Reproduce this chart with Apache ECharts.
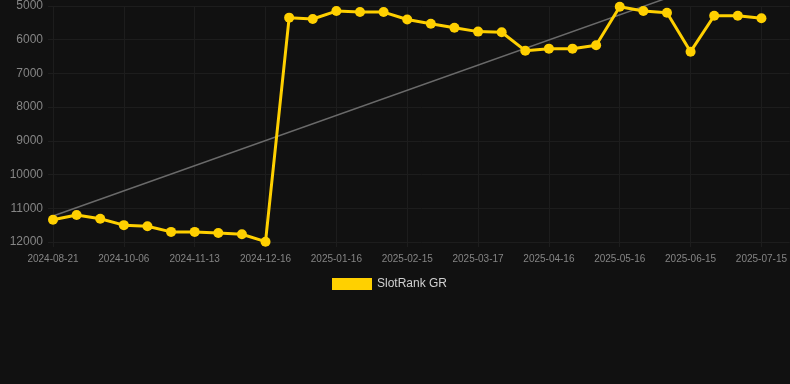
<!DOCTYPE html>
<html>
<head>
<meta charset="utf-8">
<script src="https://cdn.jsdelivr.net/npm/echarts@6/dist/echarts.min.js"></script>
<style>
  html, body { margin: 0; padding: 0; background: #111111; }
  #chart { width: 790px; height: 384px; }
</style>
</head>
<body>
<div id="chart"></div>
<script>
// dates on the x axis (every 3rd one is labelled)
const dates = [
    '2024-08-21', '2024-09-05', '2024-09-21', '2024-10-06', '2024-10-19', '2024-11-01',
    '2024-11-13', '2024-11-24', '2024-12-05', '2024-12-16', '2024-12-26', '2025-01-06',
    '2025-01-16', '2025-01-26', '2025-02-05', '2025-02-15', '2025-02-25', '2025-03-07',
    '2025-03-17', '2025-03-27', '2025-04-06', '2025-04-16', '2025-04-26', '2025-05-06',
    '2025-05-16', '2025-05-26', '2025-06-05', '2025-06-15', '2025-06-25', '2025-07-05',
    '2025-07-15'
];
// rank values
const rankGR = [
    11340, 11200, 11310, 11500, 11535, 11700, 11700, 11735, 11770, 11990,
    5345, 5385, 5150, 5180, 5180, 5400, 5525, 5645, 5760, 5780,
    6325, 6265, 6265, 6165, 5020, 5150, 5200, 6355, 5290, 5290,
    5365
];
// trend line end points
const trendStart = 11230;
const trendEnd = 3770;

const yTicks = [5000, 6000, 7000, 8000, 9000, 10000, 11000, 12000];

const chart = echarts.init(document.getElementById('chart'));
const gridColor = '#1d1d1d';
const labelColor = '#858585';
const font = 'Liberation Sans, Arial, sans-serif';

chart.setOption({
    backgroundColor: '#111111',
    animation: false,
    grid: { left: 53, right: 0, top: 6, bottom: 142 },
    legend: {
        data: ['SlotRank GR'],
        top: 278,
        left: 332,
        padding: 0,
        icon: 'rect',
        itemWidth: 40,
        itemHeight: 12,
        textStyle: { color: '#d0d0d0', fontSize: 12, fontFamily: font }
    },
    xAxis: {
        type: 'value',
        min: 0,
        max: 31.2,
        interval: 3,
        axisLine: { show: false },
        axisTick: { show: true, length: 5, lineStyle: { color: gridColor } },
        splitLine: { show: true, lineStyle: { color: gridColor, width: 1 } },
        axisLabel: {
            color: labelColor,
            fontSize: 10,
            margin: 12,
            fontFamily: font,
            showMaxLabel: false,
            formatter: v => dates[v] || ''
        }
    },
    yAxis: {
        type: 'value',
        inverse: true,
        min: yTicks[0],
        max: yTicks[yTicks.length - 1],
        interval: 1000,
        axisLine: { show: false },
        axisTick: { show: true, length: 5, lineStyle: { color: gridColor } },
        splitLine: { show: true, lineStyle: { color: gridColor, width: 1 } },
        axisLabel: {
            color: labelColor,
            fontSize: 12,
            margin: 10,
            fontFamily: font,
            formatter: v => String(v)
        }
    },
    series: [
        {
            name: 'trend',
            type: 'line',
            data: [[0, trendStart], [dates.length - 1, trendEnd]],
            symbol: 'none',
            clip: false,
            silent: true,
            z: 1,
            lineStyle: { color: '#6a6a6a', width: 1.5 }
        },
        {
            name: 'SlotRank GR',
            type: 'line',
            data: rankGR.map((v, i) => [i, v]),
            symbol: 'circle',
            symbolSize: 10,
            z: 3,
            itemStyle: { color: '#ffd000' },
            lineStyle: { color: '#ffd000', width: 3 }
        }
    ]
});
</script>
</body>
</html>
